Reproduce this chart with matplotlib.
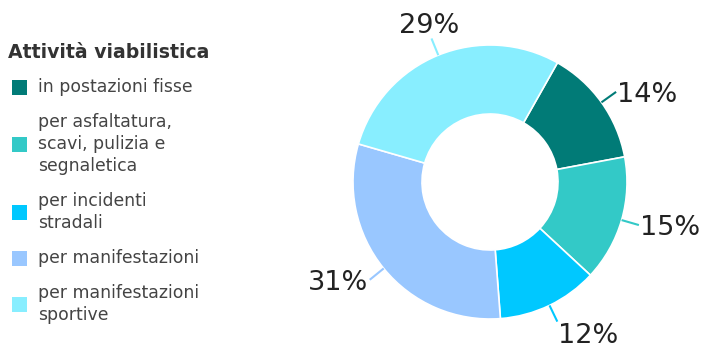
import numpy as np
import matplotlib
matplotlib.use("Agg")
import matplotlib.pyplot as plt
from matplotlib.patches import Rectangle

# data
categories = ["in postazioni fisse", "per asfaltatura,\nscavi, pulizia e\nsegnaletica",
              "per incidenti\nstradali", "per manifestazioni", "per manifestazioni\nsportive"]
shares = [14, 15, 12, 31, 29]
colors = ["#017b77", "#33c9c7", "#00c8ff", "#99c7ff", "#88eeff"]
title = "Attività viabilistica"

# label alignment per slice
label_align = [("left", "center"), ("left", "center"), ("left", "top"),
               ("right", "center"), ("center", "bottom")]

fig = plt.figure(figsize=(7.02, 3.44), dpi=100)
ax = fig.add_axes([0, 0, 1, 1])

W, H = 702, 344
cx, cy, R = 490, H - 182, 137
start = 60.5

wedges, _ = ax.pie(shares, colors=colors, startangle=start, counterclock=False,
                   center=(cx, cy), radius=R,
                   wedgeprops=dict(width=R - 68, edgecolor="white", linewidth=1.2))

# percentage labels with short leader lines
total = sum(shares)
ang = start
for v, col, (ha, va) in zip(shares, colors, label_align):
    span = 360.0 * v / total
    mid = np.deg2rad(ang - span / 2)
    ang -= span
    x0, y0 = cx + R * np.cos(mid), cy + R * np.sin(mid)
    x1, y1 = cx + (R + 18) * np.cos(mid), cy + (R + 18) * np.sin(mid)
    ax.plot([x0, x1], [y0, y1], color=col, lw=1.5, solid_capstyle="butt")
    tx = x1 + (1 if ha == "left" else -2 if ha == "right" else -2)
    ty = y1 + (-1 if va == "bottom" else -1 if va == "top" else -3)
    ax.text(tx, ty, f"{v}%", ha=ha, va=va, fontsize=19.5, color="#222222")

# legend (manual)
ax.text(8, H - 52, title, ha="left", va="center", fontsize=13.6,
        fontweight="bold", color="#333333")
line_h, gap = 22.3, 12.5
y = 87
for lab, col in zip(categories, colors):
    n = lab.count("\n") + 1
    yc = y + (n - 1) * line_h / 2
    ax.add_patch(Rectangle((12, H - yc - 7.5), 15, 15, facecolor=col, edgecolor="none"))
    ax.text(38, H - yc, lab, ha="left", va="center", fontsize=12.4,
            color="#444444", linespacing=1.28)
    y += (n - 1) * line_h + line_h + gap

ax.set_xlim(0, W)
ax.set_ylim(0, H)
ax.set_aspect("auto")
ax.axis("off")

fig.savefig("out.png", dpi=100)
